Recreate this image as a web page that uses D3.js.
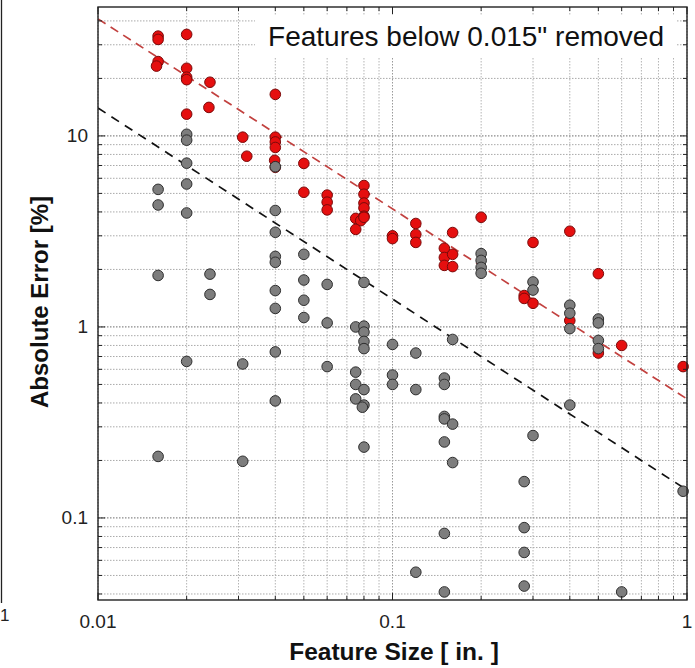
<!DOCTYPE html>
<html>
<head>
<meta charset="utf-8">
<script src="https://cdn.jsdelivr.net/npm/d3@7"></script>
<style>
  body { margin: 0; background: #fff; }
  svg { display: block; font-family: "Liberation Sans", Arial, sans-serif; }
</style>
</head>
<body>
<div id="chart"></div>
<script>
// feature size [in.] and absolute error [%]
const grayPts = [
  [0.016, 5.25], [0.016, 4.35], [0.016, 1.86], [0.016, 0.21],
  [0.02, 10.2], [0.02, 9.5], [0.02, 7.2], [0.02, 5.6], [0.02, 3.95], [0.02, 0.66],
  [0.024, 1.89], [0.024, 1.48],
  [0.031, 0.64], [0.031, 0.198],
  [0.04, 6.9], [0.04, 4.07], [0.04, 3.13], [0.04, 2.34], [0.04, 2.18], [0.04, 1.55], [0.04, 1.25], [0.04, 0.74], [0.04, 0.41],
  [0.05, 2.4], [0.05, 1.76], [0.05, 1.38], [0.05, 1.12],
  [0.06, 1.67], [0.06, 1.05], [0.06, 0.62],
  [0.075, 1.0], [0.075, 0.58], [0.075, 0.5], [0.075, 0.42],
  [0.08, 1.71], [0.08, 1.01], [0.08, 0.94], [0.08, 0.84], [0.08, 0.77], [0.08, 0.47], [0.08, 0.39], [0.079, 0.38], [0.08, 0.235],
  [0.1, 0.81], [0.1, 0.56], [0.1, 0.5],
  [0.12, 0.73], [0.12, 0.47], [0.12, 0.052],
  [0.15, 0.54], [0.15, 0.5], [0.15, 0.34], [0.15, 0.33], [0.15, 0.25], [0.15, 0.083], [0.15, 0.041],
  [0.16, 0.86], [0.16, 0.31], [0.16, 0.195],
  [0.2, 2.42], [0.2, 2.23], [0.2, 2.05], [0.2, 1.91],
  [0.28, 0.155], [0.28, 0.089], [0.28, 0.066], [0.28, 0.044],
  [0.3, 1.72], [0.3, 1.56], [0.3, 0.27],
  [0.4, 1.3], [0.4, 1.18], [0.4, 0.98], [0.4, 0.39],
  [0.5, 1.1], [0.5, 1.05], [0.5, 0.85], [0.5, 0.77],
  [0.6, 0.041],
  [0.97, 0.138]
]

// after removing features below 0.015"
const redPts = [
  [0.016, 33.3], [0.016, 32], [0.016, 24.5], [0.0158, 23.2],
  [0.02, 34], [0.02, 22.6], [0.02, 20.3], [0.02, 19.7], [0.02, 13],
  [0.024, 19.1], [0.0238, 14.1],
  [0.031, 9.85], [0.032, 7.83],
  [0.04, 16.5], [0.04, 9.85], [0.04, 9.3], [0.04, 8.7], [0.0398, 7.45], [0.04, 6.85],
  [0.05, 7.18], [0.05, 5.07],
  [0.06, 4.9], [0.06, 4.5], [0.06, 4.1],
  [0.075, 3.7], [0.078, 3.6], [0.075, 3.24],
  [0.08, 5.5], [0.08, 4.95], [0.08, 4.45], [0.08, 4.2], [0.08, 3.8], [0.08, 3.75],
  [0.1, 3.0], [0.1, 2.9],
  [0.12, 3.48], [0.12, 3.05], [0.12, 2.77],
  [0.15, 2.58], [0.15, 2.31], [0.15, 2.1],
  [0.16, 3.12], [0.16, 2.4], [0.16, 2.07],
  [0.2, 3.75],
  [0.28, 1.46], [0.28, 1.41],
  [0.3, 2.77], [0.3, 1.33],
  [0.4, 3.17], [0.4, 1.08],
  [0.5, 1.9], [0.5, 0.73],
  [0.6, 0.8],
  [0.97, 0.62]
]

// power-law fit lines
const redFit = [[0.01, 41], [1, 0.42]]
const blackFit = [[0.01, 14], [1, 0.14]]

const xTicks = [0.01, 0.1, 1]
const yTicks = [0.1, 1, 10]
const xDomain = [0.01, 1]
const yDomain = [0.0372, 47.3]

const titleText = 'Features below 0.015" removed'
const xLabel = 'Feature Size [ in. ]'
const yLabel = 'Absolute Error [%]'

var W = 695, H = 668
var margin = { top: 7, right: 8, bottom: 68, left: 98 }
var width = W - margin.left - margin.right
var height = H - margin.top - margin.bottom

var svg = d3.select('#chart').append('svg')
    .attr('width', W)
    .attr('height', H)

// remnant of the neighbouring panel on the left edge
svg.append('line')
    .attr('x1', 1.5).attr('x2', 1.5)
    .attr('y1', 0).attr('y2', 603)
    .attr('stroke', '#222').attr('stroke-width', 1.3)
svg.append('text')
    .attr('x', 0).attr('y', 621)
    .attr('font-size', 17)
    .attr('fill', '#222')
    .text('1')

var g = svg.append('g')
    .attr('transform', 'translate(' + margin.left + ',' + margin.top + ')')

var x = d3.scaleLog().domain(xDomain).range([0, width])
var y = d3.scaleLog().domain(yDomain).range([height, 0])

// all decade sub-ticks
function logTicks(lo, hi) {
    var out = []
    for (var e = Math.floor(Math.log10(lo)); e <= Math.ceil(Math.log10(hi)); e++) {
        for (var m = 1; m < 10; m++) {
            var v = m * Math.pow(10, e)
            if (v >= lo * 0.999 && v <= hi * 1.001) out.push(v)
        }
    }
    return out
}
var xAll = logTicks(xDomain[0], xDomain[1])
var yAll = logTicks(yDomain[0], yDomain[1])
function isMajor(v) { return Math.abs(Math.log10(v) - Math.round(Math.log10(v))) < 1e-6 }

// grid
var grid = g.append('g')
grid.selectAll('.gx')
    .data(xAll)
    .enter()
    .append('line')
    .attr('x1', d => x(d)).attr('x2', d => x(d))
    .attr('y1', 0).attr('y2', height)
    .attr('stroke', d => isMajor(d) ? '#9a9a9a' : '#b4b4b4')
    .attr('stroke-width', 1)
    .attr('stroke-dasharray', '1.5,1.5')
grid.selectAll('.gy')
    .data(yAll)
    .enter()
    .append('line')
    .attr('x1', 0).attr('x2', width)
    .attr('y1', d => y(d)).attr('y2', d => y(d))
    .attr('stroke', d => isMajor(d) ? '#8a8a8a' : '#aaaaaa')
    .attr('stroke-width', d => isMajor(d) ? 1.3 : 1)
    .attr('stroke-dasharray', '1.5,1.5')

// white box behind the title
g.append('rect')
    .attr('x', 157).attr('y', 8)
    .attr('width', 421).attr('height', 42)
    .attr('fill', '#fff')

g.append('text')
    .attr('x', 566)
    .attr('y', 39)
    .attr('text-anchor', 'end')
    .attr('font-size', 28)
    .attr('fill', '#111')
    .text(titleText)

// fit lines
var line = d3.line().x(d => x(d[0])).y(d => y(d[1]))
var clip = g.append('clipPath').attr('id', 'clip')
clip.append('rect').attr('width', width).attr('height', height)

g.append('path')
    .datum(redFit)
    .attr('d', line)
    .attr('clip-path', 'url(#clip)')
    .attr('fill', 'none')
    .attr('stroke', '#c2413f')
    .attr('stroke-width', 1.7)
    .attr('stroke-dasharray', '9,6')

g.append('path')
    .datum(blackFit)
    .attr('d', line)
    .attr('clip-path', 'url(#clip)')
    .attr('fill', 'none')
    .attr('stroke', '#111')
    .attr('stroke-width', 1.7)
    .attr('stroke-dasharray', '9,7')

// points: red first, grey drawn over it
g.append('g').selectAll('circle')
    .data(redPts)
    .enter()
    .append('circle')
    .attr('cx', d => x(d[0]))
    .attr('cy', d => y(d[1]))
    .attr('r', 5.3)
    .attr('fill', '#e50f0f')
    .attr('stroke', '#7a0a0a')
    .attr('stroke-width', 1)

g.append('g').selectAll('circle')
    .data(grayPts)
    .enter()
    .append('circle')
    .attr('cx', d => x(d[0]))
    .attr('cy', d => y(d[1]))
    .attr('r', 5.3)
    .attr('fill', '#7d7d7d')
    .attr('stroke', '#2e2e2e')
    .attr('stroke-width', 1)

// inside ticks on all four sides
var tk = g.append('g').attr('stroke', '#222').attr('stroke-width', 1)
xAll.forEach(function (v) {
    var len = isMajor(v) ? 7 : 4
    tk.append('line').attr('x1', x(v)).attr('x2', x(v)).attr('y1', height).attr('y2', height - len)
    tk.append('line').attr('x1', x(v)).attr('x2', x(v)).attr('y1', 0).attr('y2', len)
})
yAll.forEach(function (v) {
    var len = isMajor(v) ? 7 : 4
    tk.append('line').attr('x1', 0).attr('x2', len).attr('y1', y(v)).attr('y2', y(v))
    tk.append('line').attr('x1', width).attr('x2', width - len).attr('y1', y(v)).attr('y2', y(v))
})

// frame
g.append('rect')
    .attr('width', width).attr('height', height)
    .attr('fill', 'none')
    .attr('stroke', '#222')
    .attr('stroke-width', 1.4)

// tick labels
g.selectAll('.xtl')
    .data(xTicks)
    .enter()
    .append('text')
    .attr('x', d => x(d))
    .attr('y', height + 28)
    .attr('text-anchor', 'middle')
    .attr('font-size', 19)
    .attr('fill', '#222')
    .text(d => d3.format('')(d))

g.selectAll('.ytl')
    .data(yTicks)
    .enter()
    .append('text')
    .attr('x', -10)
    .attr('y', d => y(d) + 6.5)
    .attr('text-anchor', 'end')
    .attr('font-size', 19)
    .attr('fill', '#222')
    .text(d => d3.format('')(d))

// axis titles
svg.append('text')
    .attr('x', 394)
    .attr('y', 660)
    .attr('text-anchor', 'middle')
    .attr('font-size', 24.5)
    .attr('font-weight', 'bold')
    .attr('fill', '#111')
    .text(xLabel)

svg.append('text')
    .attr('transform', 'translate(48,302) rotate(-90)')
    .attr('text-anchor', 'middle')
    .attr('font-size', 24)
    .attr('font-weight', 'bold')
    .attr('fill', '#111')
    .text(yLabel)
</script>
</body>
</html>
